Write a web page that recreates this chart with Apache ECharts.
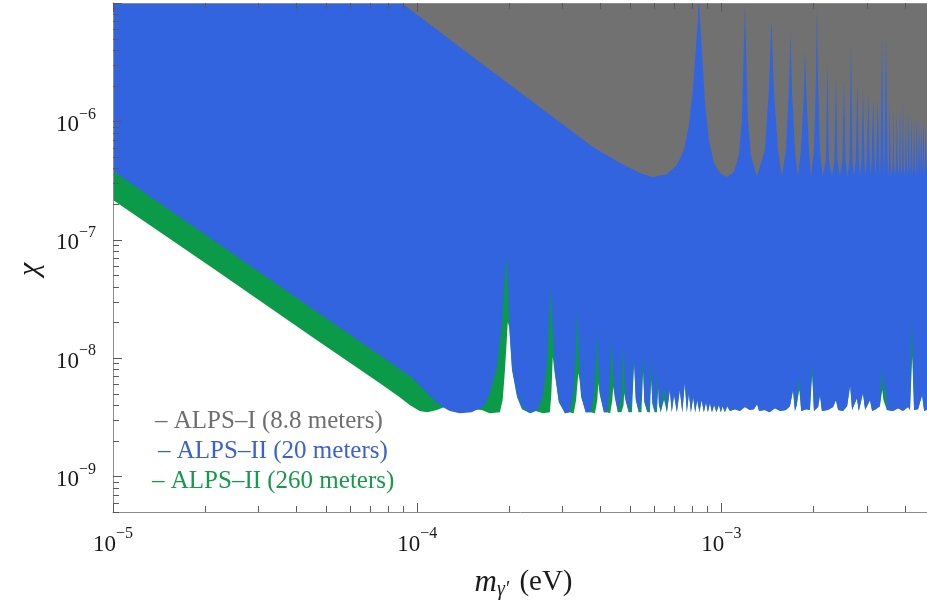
<!doctype html>
<html>

<head>
    <meta charset="utf-8">
    <title>ALPS hidden photon sensitivity</title>
    <script src="https://cdn.jsdelivr.net/npm/echarts@6.0.0/dist/echarts.min.js"></script>
    <style>
        html,
        body {
            margin: 0;
            padding: 0;
            background: #fff;
        }

        #container {
            width: 927px;
            height: 611px;
        }
    </style>
</head>

<body>

    <div id="container"></div>

    <script type="text/javascript">
        // axis ranges and labels
        var xRange = [1e-5, 5e-3];
        var yRange = [5e-10, 1e-5];
        var xLabelExps = [-5, -4, -3];
        var yLabelExps = [-6, -7, -8, -9];
        var xDecades = [1e-5, 1e-4, 1e-3];
        var yDecades = [1e-10, 1e-9, 1e-8, 1e-7, 1e-6, 1e-5];
        var minorMantissas = [2, 3, 4, 5, 6, 7, 8, 9];

        var seriesNames = ['ALPS–I (8.8 meters)', 'ALPS–II (20 meters)', 'ALPS–II (260 meters)'];
        var fillColors = ['#717171', '#3264e0', '#0b9a48'];
        var textColors = ['#6e6e6e', '#3a60d8', '#17994a'];

        // ALPS-I (8.8 m): [mass eV, chi]
        var grayCurve = [
            [8.2e-5, 1.17e-5], [8.89e-5, 1.0e-5], [1.38e-4, 4.25e-6], [2.29e-4, 1.60e-6], [3.78e-4, 6.07e-7],
            [4.64e-4, 4.44e-7], [5.39e-4, 3.66e-7], [5.95e-4, 3.38e-7], [6.62e-4, 3.58e-7], [7.14e-4, 4.27e-7],
            [7.53e-4, 5.72e-7], [7.82e-4, 9.30e-7], [8.06e-4, 1.84e-6], [8.24e-4, 4.01e-6], [8.37e-4, 7.18e-6],
            [8.43e-4, 1.3e-5], [8.50e-4, 7.18e-6], [8.63e-4, 4.01e-6], [8.82e-4, 1.51e-6], [9.10e-4, 6.95e-7],
            [9.45e-4, 4.44e-7], [9.89e-4, 3.66e-7], [1.042e-3, 3.38e-7], [1.099e-3, 3.73e-7], [1.142e-3, 5.19e-7],
            [1.168e-3, 1.03e-6], [1.186e-3, 4.42e-6], [1.195e-3, 9.25e-6], [1.204e-3, 4.42e-6], [1.222e-3, 1.03e-6],
            [1.250e-3, 5.19e-7], [1.308e-3, 3.38e-7], [1.390e-3, 5.72e-7], [1.433e-3, 1.84e-6], [1.461e-3, 7.18e-6],
            [1.488e-3, 1.84e-6], [1.534e-3, 5.72e-7], [1.581e-3, 3.38e-7], [1.630e-3, 5.72e-7], [1.667e-3, 1.84e-6],
            [1.687e-3, 5.69e-6], [1.706e-3, 1.84e-6], [1.745e-3, 5.72e-7], [1.785e-3, 3.38e-7], [1.826e-3, 5.72e-7],
            [1.868e-3, 1.67e-6], [1.882e-3, 4.01e-6], [1.904e-3, 1.67e-6], [1.940e-3, 5.72e-7], [1.970e-3, 3.38e-7],
            [2.015e-3, 5.72e-7], [2.046e-3, 2.23e-6], [2.061e-3, 9.07e-6], [2.077e-3, 2.23e-6], [2.109e-3, 5.72e-7],
            [2.149e-3, 3.38e-7],
            [2.207e-3, 4.71e-7], [2.232e-3, 3.17e-6], [2.257e-3, 4.71e-7], [2.310e-3, 3.38e-7],
            [2.353e-3, 4.71e-7], [2.380e-3, 2.46e-6], [2.407e-3, 4.71e-7], [2.454e-3, 3.38e-7],
            [2.500e-3, 4.71e-7], [2.529e-3, 2.23e-6], [2.558e-3, 4.71e-7], [2.597e-3, 3.38e-7],
            [2.637e-3, 4.71e-7], [2.667e-3, 4.42e-6], [2.697e-3, 4.71e-7], [2.729e-3, 3.38e-7],
            [2.766e-3, 4.71e-7], [2.798e-3, 2.11e-6], [2.830e-3, 4.71e-7], [2.856e-3, 3.38e-7],
            [2.888e-3, 4.71e-7], [2.921e-3, 1.91e-6], [2.954e-3, 4.71e-7], [2.977e-3, 3.38e-7],
            [3.006e-3, 4.71e-7], [3.040e-3, 1.67e-6], [3.075e-3, 4.71e-7], [3.096e-3, 3.38e-7],
            [3.119e-3, 4.71e-7], [3.155e-3, 1.51e-6], [3.191e-3, 4.71e-7], [3.211e-3, 3.38e-7],
            [3.230e-3, 4.71e-7], [3.267e-3, 1.51e-6], [3.304e-3, 4.71e-7], [3.322e-3, 3.38e-7],
            [3.335e-3, 4.71e-7], [3.373e-3, 4.87e-6], [3.412e-3, 4.71e-7], [3.424e-3, 3.38e-7],
            [3.438e-3, 4.71e-7], [3.477e-3, 5.37e-6], [3.517e-3, 4.71e-7], [3.530e-3, 3.38e-7],
            [3.556e-3, 4.27e-7], [3.578e-3, 1.37e-6], [3.600e-3, 4.27e-7], [3.627e-3, 3.38e-7],
            [3.656e-3, 4.27e-7], [3.678e-3, 1.25e-6], [3.700e-3, 4.27e-7], [3.725e-3, 3.38e-7],
            [3.750e-3, 4.27e-7], [3.773e-3, 1.25e-6], [3.796e-3, 4.27e-7], [3.819e-3, 3.38e-7],
            [3.843e-3, 4.27e-7], [3.866e-3, 1.37e-6], [3.889e-3, 4.27e-7], [3.910e-3, 3.38e-7],
            [3.930e-3, 4.27e-7], [3.954e-3, 1.51e-6], [3.978e-3, 4.27e-7], [4.000e-3, 3.38e-7],
            [4.021e-3, 4.27e-7], [4.045e-3, 1.13e-6], [4.070e-3, 4.27e-7], [4.088e-3, 3.38e-7],
            [4.107e-3, 4.27e-7], [4.132e-3, 1.25e-6], [4.157e-3, 4.27e-7], [4.176e-3, 3.38e-7],
            [4.192e-3, 4.27e-7], [4.217e-3, 1.13e-6], [4.243e-3, 4.27e-7], [4.259e-3, 3.38e-7],
            [4.272e-3, 4.27e-7], [4.298e-3, 1.03e-6], [4.324e-3, 4.27e-7], [4.340e-3, 3.38e-7],
            [4.357e-3, 4.27e-7], [4.384e-3, 1.13e-6], [4.411e-3, 4.27e-7], [4.423e-3, 3.38e-7],
            [4.437e-3, 4.27e-7], [4.464e-3, 1.03e-6], [4.491e-3, 4.27e-7], [4.504e-3, 3.38e-7],
            [4.515e-3, 4.27e-7], [4.542e-3, 9.30e-7], [4.570e-3, 4.27e-7], [4.580e-3, 3.38e-7],
            [4.591e-3, 4.27e-7], [4.619e-3, 1.03e-6], [4.647e-3, 4.27e-7], [4.657e-3, 3.38e-7],
            [4.668e-3, 4.27e-7], [4.696e-3, 9.30e-7], [4.725e-3, 4.27e-7], [4.735e-3, 3.38e-7],
            [4.742e-3, 4.27e-7], [4.771e-3, 9.30e-7], [4.800e-3, 4.27e-7], [4.815e-3, 3.38e-7],
            [5.0e-3, 3.38e-7]
        ];

        // ALPS-II (20 m), low mass part
        var blueHead = [
            [1.00e-5, 3.80e-7], [2.13e-5, 9.92e-8], [4.53e-5, 2.59e-8], [7.52e-5, 1.06e-8], [9.66e-5, 6.76e-9],
            [1.12e-4, 4.58e-9], [1.20e-4, 3.92e-9], [1.28e-4, 3.56e-9], [1.38e-4, 3.42e-9], [1.51e-4, 3.49e-9],
            [1.66e-4, 3.92e-9],
            [1.73e-4, 5.05e-9], [1.83e-4, 8.38e-9], [1.90e-4, 1.97e-8], [1.94e-4, 4.55e-8], [1.962e-4, 7.41e-8],
            [1.985e-4, 4.13e-8], [2.007e-4, 1.90e-8], [2.05e-4, 8.22e-9], [2.13e-4, 4.86e-9], [2.21e-4, 3.85e-9],
            [2.35e-4, 3.42e-9], [2.49e-4, 3.63e-9], [2.59e-4, 4.86e-9], [2.67e-4, 8.71e-9], [2.72e-4, 2.09e-8],
            [2.75e-4, 4.13e-8], [2.78e-4, 2.09e-8], [2.83e-4, 7.90e-9], [2.92e-4, 4.41e-9], [3.06e-4, 3.42e-9],
            [3.17e-4, 3.49e-9], [3.26e-4, 4.86e-9], [3.32e-4, 1.06e-8], [3.36e-4, 2.54e-8], [3.40e-4, 1.06e-8],
            [3.46e-4, 4.86e-9], [3.58e-4, 3.49e-9], [3.72e-4, 3.49e-9], [3.81e-4, 4.86e-9], [3.87e-4, 9.60e-9],
            [3.895e-4, 1.72e-8], [3.925e-4, 9.60e-9], [4.00e-4, 4.86e-9], [4.11e-4, 3.49e-9], [4.20e-4, 3.49e-9],
            [4.28e-4, 4.86e-9], [4.33e-4, 8.71e-9], [4.36e-4, 1.42e-8], [4.40e-4, 8.71e-9], [4.46e-4, 4.86e-9],
            [4.57e-4, 3.49e-9], [4.69e-4, 4.58e-9], [4.76e-4, 1.29e-8], [4.83e-4, 4.58e-9], [4.96e-4, 3.49e-9],
            [5.08e-4, 4.58e-9], [5.15e-4, 1.02e-8], [5.23e-4, 4.58e-9], [5.35e-4, 3.49e-9], [5.46e-4, 4.41e-9],
            [5.52e-4, 1.10e-8], [5.58e-4, 4.41e-9], [5.71e-4, 3.49e-9], [5.82e-4, 4.24e-9], [5.86e-4, 9.60e-9],
            [5.93e-4, 4.24e-9], [6.04e-4, 3.49e-9], [6.14e-4, 4.16e-9], [6.18e-4, 7.90e-9], [6.23e-4, 4.16e-9],
            [6.32e-4, 3.49e-9], [6.47e-4, 5.68e-9], [6.62e-4, 3.49e-9]
        ];

        // ALPS-II (260 m), low mass part
        var greenHead = [
            [1.00e-5, 2.16e-7], [2.13e-5, 5.75e-8], [4.53e-5, 1.50e-8], [7.52e-5, 6.14e-9], [8.76e-5, 4.67e-9],
            [9.45e-5, 4.00e-9], [1.019e-4, 3.56e-9], [1.08e-4, 3.49e-9], [1.16e-4, 3.63e-9], [1.23e-4, 3.85e-9],
            [1.33e-4, 3.63e-9], [1.51e-4, 3.70e-9], [1.63e-4, 3.63e-9], [1.73e-4, 3.42e-9], [1.87e-4, 3.49e-9],
            [1.91e-4, 4.41e-9], [1.94e-4, 7.45e-9], [1.970e-4, 1.42e-8], [1.985e-4, 2.01e-8], [2.007e-4, 1.82e-8],
            [2.05e-4, 7.90e-9], [2.13e-4, 4.67e-9], [2.21e-4, 3.70e-9], [2.35e-4, 3.42e-9], [2.45e-4, 3.56e-9],
            [2.59e-4, 3.42e-9], [2.73e-4, 3.49e-9], [2.76e-4, 4.86e-9], [2.79e-4, 1.02e-8], [2.83e-4, 7.60e-9],
            [2.92e-4, 4.24e-9], [3.06e-4, 3.42e-9], [3.17e-4, 3.49e-9], [3.27e-4, 3.42e-9], [3.33e-4, 4.41e-9],
            [3.385e-4, 7.45e-9], [3.42e-4, 6.50e-9], [3.46e-4, 4.67e-9], [3.58e-4, 3.49e-9], [3.72e-4, 3.49e-9],
            [3.84e-4, 3.42e-9], [3.91e-4, 4.41e-9], [3.94e-4, 6.14e-9], [3.97e-4, 5.15e-9], [4.00e-4, 4.67e-9],
            [4.11e-4, 3.49e-9], [4.20e-4, 3.49e-9], [4.31e-4, 3.42e-9], [4.38e-4, 4.41e-9], [4.41e-4, 5.68e-9],
            [4.44e-4, 5.15e-9], [4.46e-4, 4.67e-9], [4.57e-4, 3.49e-9], [4.69e-4, 3.49e-9], [4.77e-4, 4.00e-9],
            [4.79e-4, 5.05e-9], [4.82e-4, 4.58e-9], [4.83e-4, 4.41e-9], [4.96e-4, 3.49e-9], [5.08e-4, 3.49e-9],
            [5.17e-4, 9.23e-9], [5.23e-4, 4.41e-9], [5.35e-4, 3.49e-9], [5.46e-4, 3.49e-9], [5.53e-4, 7.60e-9],
            [5.58e-4, 4.24e-9], [5.71e-4, 3.49e-9], [5.82e-4, 3.49e-9], [5.88e-4, 6.50e-9], [5.93e-4, 4.08e-9],
            [6.04e-4, 3.49e-9], [6.14e-4, 3.49e-9], [6.20e-4, 5.57e-9], [6.23e-4, 4.00e-9], [6.32e-4, 3.49e-9],
            [6.48e-4, 4.41e-9], [6.62e-4, 3.49e-9]
        ];

        // high mass part where both ALPS-II curves coincide
        var sharedTail = [
            [6.77e-4, 5.36e-9], [6.87e-4, 3.49e-9], [6.99e-4, 4.86e-9], [7.14e-4, 3.49e-9], [7.30e-4, 5.36e-9],
            [7.44e-4, 3.49e-9], [7.58e-4, 6.14e-9], [7.70e-4, 3.49e-9], [7.82e-4, 5.05e-9], [7.94e-4, 3.49e-9],
            [8.08e-4, 4.67e-9], [8.20e-4, 3.49e-9], [8.33e-4, 4.41e-9], [8.47e-4, 3.49e-9], [8.61e-4, 4.41e-9],
            [8.76e-4, 3.49e-9], [8.90e-4, 4.24e-9], [9.03e-4, 3.49e-9], [9.17e-4, 4.16e-9], [9.31e-4, 3.49e-9],
            [9.47e-4, 4.00e-9], [9.63e-4, 3.49e-9], [9.81e-4, 4.00e-9], [9.96e-4, 3.49e-9], [1.009e-3, 3.92e-9],
            [1.027e-3, 3.49e-9], [1.045e-3, 3.92e-9], [1.067e-3, 3.56e-9], [1.108e-3, 3.70e-9], [1.15e-3, 3.56e-9],
            [1.195e-3, 3.85e-9], [1.24e-3, 3.63e-9], [1.28e-3, 3.70e-9], [1.31e-3, 4.08e-9], [1.33e-3, 3.56e-9],
            [1.39e-3, 3.63e-9], [1.44e-3, 3.49e-9], [1.50e-3, 3.77e-9], [1.56e-3, 3.56e-9], [1.63e-3, 3.63e-9],
            [1.68e-3, 3.92e-9], [1.72e-3, 5.36e-9], [1.745e-3, 3.56e-9], [1.77e-3, 4.00e-9], [1.83e-3, 3.56e-9],
            [1.90e-3, 3.70e-9], [1.955e-3, 3.63e-9], [2.015e-3, 3.56e-9], [2.08e-3, 3.85e-9], [2.11e-3, 4.86e-9],
            [2.14e-3, 3.56e-9], [2.24e-3, 3.63e-9], [2.33e-3, 3.85e-9], [2.38e-3, 4.41e-9], [2.42e-3, 3.63e-9],
            [2.51e-3, 3.56e-9], [2.59e-3, 3.92e-9], [2.65e-3, 5.90e-9], [2.69e-3, 3.63e-9], [2.79e-3, 4.58e-9],
            [2.83e-3, 3.56e-9], [2.92e-3, 5.05e-9], [2.97e-3, 3.63e-9], [3.08e-3, 4.41e-9], [3.13e-3, 3.56e-9],
            [3.22e-3, 3.70e-9], [3.32e-3, 3.92e-9], [3.41e-3, 4.41e-9], [3.50e-3, 3.63e-9], [3.67e-3, 3.56e-9],
            [3.81e-3, 3.77e-9], [3.95e-3, 3.56e-9], [4.11e-3, 3.85e-9], [4.17e-3, 3.63e-9], [4.30e-3, 3.63e-9],
            [4.43e-3, 3.70e-9], [4.57e-3, 4.86e-9], [4.64e-3, 3.56e-9], [4.78e-3, 3.70e-9], [5.0e-3, 3.63e-9]
        ];
        // spikes where the two ALPS-II curves differ
        var blueTailSpikes = [
            [1.80e-3, 6.90e-9], [1.985e-3, 9.06e-9], [3.37e-3, 8.38e-9], [3.45e-3, 6.50e-9], [4.23e-3, 2.22e-8]
        ];
        var greenTailSpikes = [
            [1.803e-3, 5.36e-9], [1.988e-3, 7.17e-9], [3.38e-3, 5.36e-9], [4.24e-3, 1.02e-8]
        ];

        function byMass(a, b) {
            return a[0] - b[0];
        }
        var blueCurve = blueHead.concat(sharedTail, blueTailSpikes).sort(byMass);
        var greenCurve = greenHead.concat(sharedTail, greenTailSpikes).sort(byMass);

        // tick marks: [x, y, length]
        var xTicks = [];
        xDecades.forEach(function(d) {
            xTicks.push([d, yRange[0], 9]);
            minorMantissas.forEach(function(k) {
                if (d * k <= xRange[1]) xTicks.push([d * k, yRange[0], 6]);
            });
        });
        var yTicks = [];
        yDecades.forEach(function(d) {
            if (d >= yRange[0] && d <= yRange[1]) yTicks.push([xRange[0], d, 9]);
            minorMantissas.forEach(function(k) {
                var v = d * k;
                if (v >= yRange[0] && v < yRange[1]) yTicks.push([xRange[0], v, 6]);
            });
        });

        var serif = '"Liberation Serif", "DejaVu Serif", serif';
        var labelRich = {
            b: { fontFamily: serif, fontSize: 23, color: '#1a1a1a', lineHeight: 30, verticalAlign: 'bottom' },
            s: { fontFamily: serif, fontSize: 16, color: '#1a1a1a', lineHeight: 16, verticalAlign: 'top' }
        };

        function powerLabel(exps) {
            return function(v) {
                var l = Math.log10(v);
                var e = Math.round(l);
                if (Math.abs(l - e) > 1e-6 || exps.indexOf(e) < 0) return '';
                return '{b|10}{s|\u2212' + Math.abs(e) + '}';
            };
        }

        function areaSeries(name, data, color, z) {
            return {
                name: name,
                type: 'line',
                data: data,
                symbol: 'none',
                showSymbol: false,
                silent: true,
                z: z,
                lineStyle: { width: 0, opacity: 0 },
                areaStyle: { color: color, opacity: 1, origin: 'end' }
            };
        }

        var tickStyle = { stroke: '#5a5a5a', lineWidth: 1 };

        var option = {
            animation: false,
            grid: { left: 113, right: -7, top: 3, bottom: 99, containLabel: false, outerBoundsMode: 'none' },
            xAxis: [{
                type: 'log',
                logBase: 10,
                min: xRange[0],
                max: xRange[1],
                position: 'bottom',
                z: 6,
                axisLine: { show: true, onZero: false, lineStyle: { color: '#8c8c8c', width: 1 } },
                axisTick: { show: false },
                minorTick: { show: false },
                splitLine: { show: false },
                axisLabel: { margin: 14, formatter: powerLabel(xLabelExps), rich: labelRich },
                name: '{i|m}{sub|\u03b3\u2032} (eV)',
                nameLocation: 'middle',
                nameGap: 53,
                nameTextStyle: {
                    fontFamily: serif,
                    fontSize: 29,
                    color: '#1a1a1a',
                    rich: {
                        i: { fontFamily: serif, fontSize: 31, fontStyle: 'italic', color: '#1a1a1a' },
                        sub: { fontFamily: serif, fontSize: 20, fontStyle: 'italic', color: '#1a1a1a', padding: [15, 3, 0, 0] }
                    }
                }
            }, {
                type: 'log',
                logBase: 10,
                min: xRange[0],
                max: xRange[1],
                position: 'top',
                z: 6,
                axisLine: { show: true, onZero: false, lineStyle: { color: '#8c8c8c', width: 1 } },
                axisTick: { show: false },
                axisLabel: { show: false },
                splitLine: { show: false }
            }],
            yAxis: {
                type: 'log',
                logBase: 10,
                min: yRange[0],
                max: yRange[1],
                z: 6,
                axisLine: { show: true, onZero: false, lineStyle: { color: '#8c8c8c', width: 1 } },
                axisTick: { show: false },
                minorTick: { show: false },
                splitLine: { show: false },
                axisLabel: { margin: 17, formatter: powerLabel(yLabelExps), rich: labelRich },
                name: '\u03c7',
                nameLocation: 'middle',
                nameGap: 56,
                nameTextStyle: { fontFamily: serif, fontSize: 30, fontStyle: 'italic', color: '#1a1a1a', padding: [0, 24, 0, 0] }
            },
            graphic: seriesNames.map(function(n, i) {
                return {
                    type: 'text',
                    left: [155, 158, 152][i],
                    top: [409, 439, 469][i],
                    z: 20,
                    style: { text: '\u2013 ' + n, fill: textColors[i], font: '25px ' + serif }
                };
            }),
            series: [
                areaSeries(seriesNames[2], greenCurve, fillColors[2], 2),
                areaSeries(seriesNames[1], blueCurve, fillColors[1], 3),
                areaSeries(seriesNames[0], grayCurve, fillColors[0], 4),
                {
                    type: 'custom',
                    silent: true,
                    z: 10,
                    data: xTicks,
                    renderItem: function(params, api) {
                        var b = api.coord([api.value(0), yRange[0]]);
                        var t = api.coord([api.value(0), yRange[1]]);
                        var len = api.value(2);
                        var x = Math.round(b[0]) + 0.5;
                        return {
                            type: 'group',
                            children: [
                                { type: 'line', shape: { x1: x, y1: b[1], x2: x, y2: b[1] - len }, style: tickStyle },
                                { type: 'line', shape: { x1: x, y1: t[1], x2: x, y2: t[1] + len }, style: tickStyle }
                            ]
                        };
                    }
                },
                {
                    type: 'custom',
                    silent: true,
                    z: 10,
                    data: yTicks,
                    renderItem: function(params, api) {
                        var p = api.coord([xRange[0], api.value(1)]);
                        var len = api.value(2);
                        var y = Math.round(p[1]) + 0.5;
                        return { type: 'line', shape: { x1: p[0], y1: y, x2: p[0] + len, y2: y }, style: tickStyle };
                    }
                }
            ]
        };

        var myChart = echarts.init(document.getElementById('container'));
        myChart.setOption(option);
    </script>
</body>

</html>
